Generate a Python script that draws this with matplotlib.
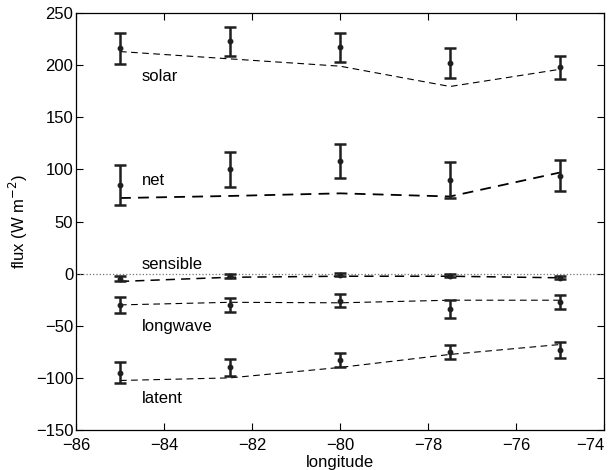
import numpy as np
import matplotlib
matplotlib.use("Agg")
from matplotlib import pyplot as plt

plt.rcParams['font.family'] = ['Liberation Sans', 'DejaVu Sans']

lon = [-85, -82.5, -80, -77.5, -75]

# observed fluxes and error bars
solar_obs = [216, 223, 217, 202, 198]
solar_err = [15, 14, 14, 14, 11]
net_obs = [85, 100, 108, 90, 94]
net_err = [19, 17, 16, 17.5, 15]
sensible_obs = [-5, -2, -1, -2, -4]
sensible_err = [2.5, 2, 1.5, 1.5, 1.5]
longwave_obs = [-30, -30, -26, -34, -27]
longwave_err = [7.5, 7, 6, 8.5, 6.5]
latent_obs = [-95, -90, -83, -75, -73]
latent_err = [10, 8, 6.5, 6.5, 7.5]

# model fluxes
solar_mod = [213, 206, 199, 179.5, 196]
net_mod = [72.5, 74.5, 77, 74, 97]
sensible_mod = [-7.5, -3.5, -2.5, -2.5, -4]
longwave_mod = [-30, -27.5, -28, -25.5, -25.5]
latent_mod = [-102.5, -100, -90, -77.5, -68]

labels = ['solar', 'net', 'sensible', 'longwave', 'latent']
label_y = [189, 89, 9, -51, -120]

fig = plt.figure(figsize=(6.14, 4.70), dpi=100)
ax = fig.add_axes([76 / 614, 40 / 470, 528 / 614, 417 / 470])

ax.axhline(0, color='0.45', linestyle=':', linewidth=0.9)

obs = [solar_obs, net_obs, sensible_obs, longwave_obs, latent_obs]
errs = [solar_err, net_err, sensible_err, longwave_err, latent_err]
mods = [solar_mod, net_mod, sensible_mod, longwave_mod, latent_mod]
widths = [0.8, 1.3, 1.1, 0.8, 0.8]

for o, e, m, w in zip(obs, errs, mods, widths):
    ax.plot(lon, m, color='black', linestyle=(0, (6, 4)), linewidth=w)
    ax.errorbar(lon, o, yerr=e, fmt='o', color='0.12', markersize=3.2,
                elinewidth=1.8, capsize=4.5, capthick=1.8)

for name, y in zip(labels, label_y):
    ax.text(-84.5, y, name, fontsize=12, ha='left', va='center')

ax.set_xlim(-86, -74)
ax.set_ylim(-150, 250)
ax.set_xticks(np.arange(-86, -73, 2))
ax.set_yticks(np.arange(-150, 251, 50))
ax.set_xticklabels([f'\u2212{abs(v)}' for v in range(86, 73, -2)])
ax.set_yticklabels([f'\u2212{abs(v)}' if v < 0 else str(v) for v in range(-150, 251, 50)])
ax.tick_params(direction='in', top=True, right=True, length=5, labelsize=12, pad=2)
ax.tick_params(axis='x', pad=6)
# keep the last x tick label inside the picture, as in the original
ax.get_xticklabels()[-1].set_horizontalalignment('right')
for s in ax.spines.values():
    s.set_linewidth(0.9)

ax.set_xlabel('longitude', fontsize=12, labelpad=1)
ax.set_ylabel('flux (W m$^{-2}$)', fontsize=12, labelpad=4)

fig.savefig('out.png', dpi=100)
